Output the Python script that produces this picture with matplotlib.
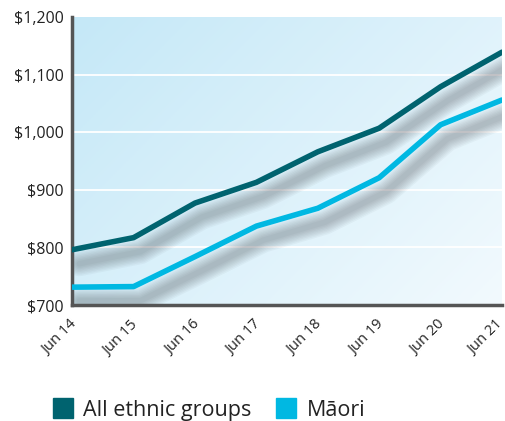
import matplotlib.pyplot as plt
import matplotlib.transforms as mtransforms
from matplotlib.lines import Line2D
import numpy as np

periods = ['Jun 14', 'Jun 15', 'Jun 16', 'Jun 17', 'Jun 18', 'Jun 19', 'Jun 20', 'Jun 21']
all_groups = [796, 817, 877, 913, 966, 1007, 1079, 1139]
maori = [731, 732, 784, 837, 868, 921, 1013, 1056]
y_ticks = [700, 800, 900, 1000, 1100, 1200]

dark_teal = '#00636f'
light_blue = '#00b8e2'

plt.rcParams['font.family'] = ['Open Sans', 'DejaVu Sans']

fig = plt.figure(figsize=(5.05, 4.21), dpi=100)
ax = fig.add_axes([0.143, 0.2755, 0.851, 0.684])

x = np.arange(len(periods))
ax.set_xlim(0, len(periods) - 1)
ax.set_ylim(700, 1200)

# diagonal gradient background
gx, gy = np.meshgrid(np.linspace(0, 1, 200), np.linspace(0, 1, 200))
t = np.clip(0.6 * gx + 0.4 * gy, 0, 1)
c0 = np.array([0.77, 0.91, 0.97])
c1 = np.array([0.95, 0.98, 0.995])
grad = c0[None, None, :] * (1 - t[..., None]) + c1[None, None, :] * t[..., None]
ax.imshow(grad, extent=[0, len(periods) - 1, 700, 1200], aspect='auto',
          origin='upper', zorder=0)

for yv in y_ticks[1:-1]:
    ax.axhline(yv, color='white', lw=1.3, zorder=1)

# soft drop shadows under both lines
for series in (all_groups, maori):
    for w in range(18, 2, -2):
        tr = mtransforms.offset_copy(ax.transData, fig=fig, x=7, y=-14, units='dots')
        ax.plot(x, series, color='#3c4046', lw=w, alpha=0.045, transform=tr,
                solid_capstyle='round', solid_joinstyle='round', zorder=2)

ax.plot(x, all_groups, color=dark_teal, lw=4, solid_capstyle='round', zorder=3)
ax.plot(x, maori, color=light_blue, lw=4, solid_capstyle='round', zorder=3)

ax.set_yticks(y_ticks)
ax.set_yticklabels(['${:,}'.format(v) for v in y_ticks], fontsize=11.5, color='#222222')
ax.set_xticks(x)
ax.set_xticklabels(periods, rotation=45, ha='right', rotation_mode='anchor',
                   fontsize=10.5, color='#222222')
ax.tick_params(length=0, pad=6)
ax.tick_params(axis='x', pad=9)
labels = ax.get_xticklabels()
for i, lbl in enumerate(labels):
    dx = -3 if i < len(labels) - 1 else -7
    shift = mtransforms.ScaledTranslation(dx / 100, 0, fig.dpi_scale_trans)
    lbl.set_transform(lbl.get_transform() + shift)

for side in ('top', 'right'):
    ax.spines[side].set_visible(False)
for side in ('left', 'bottom'):
    ax.spines[side].set_color('#555555')
    ax.spines[side].set_linewidth(2.5)

handles = [Line2D([], [], marker='s', ls='', color=dark_teal, markersize=14),
           Line2D([], [], marker='s', ls='', color=light_blue, markersize=14)]
fig.legend(handles, ['All ethnic groups', 'Māori'], loc='lower left',
           bbox_to_anchor=(0.065, -0.045), ncol=2, frameon=False, fontsize=15.5,
           handlelength=1.0, handletextpad=0.45, columnspacing=1.1,
           labelcolor='#222222')

fig.savefig('out.png', dpi=100)
